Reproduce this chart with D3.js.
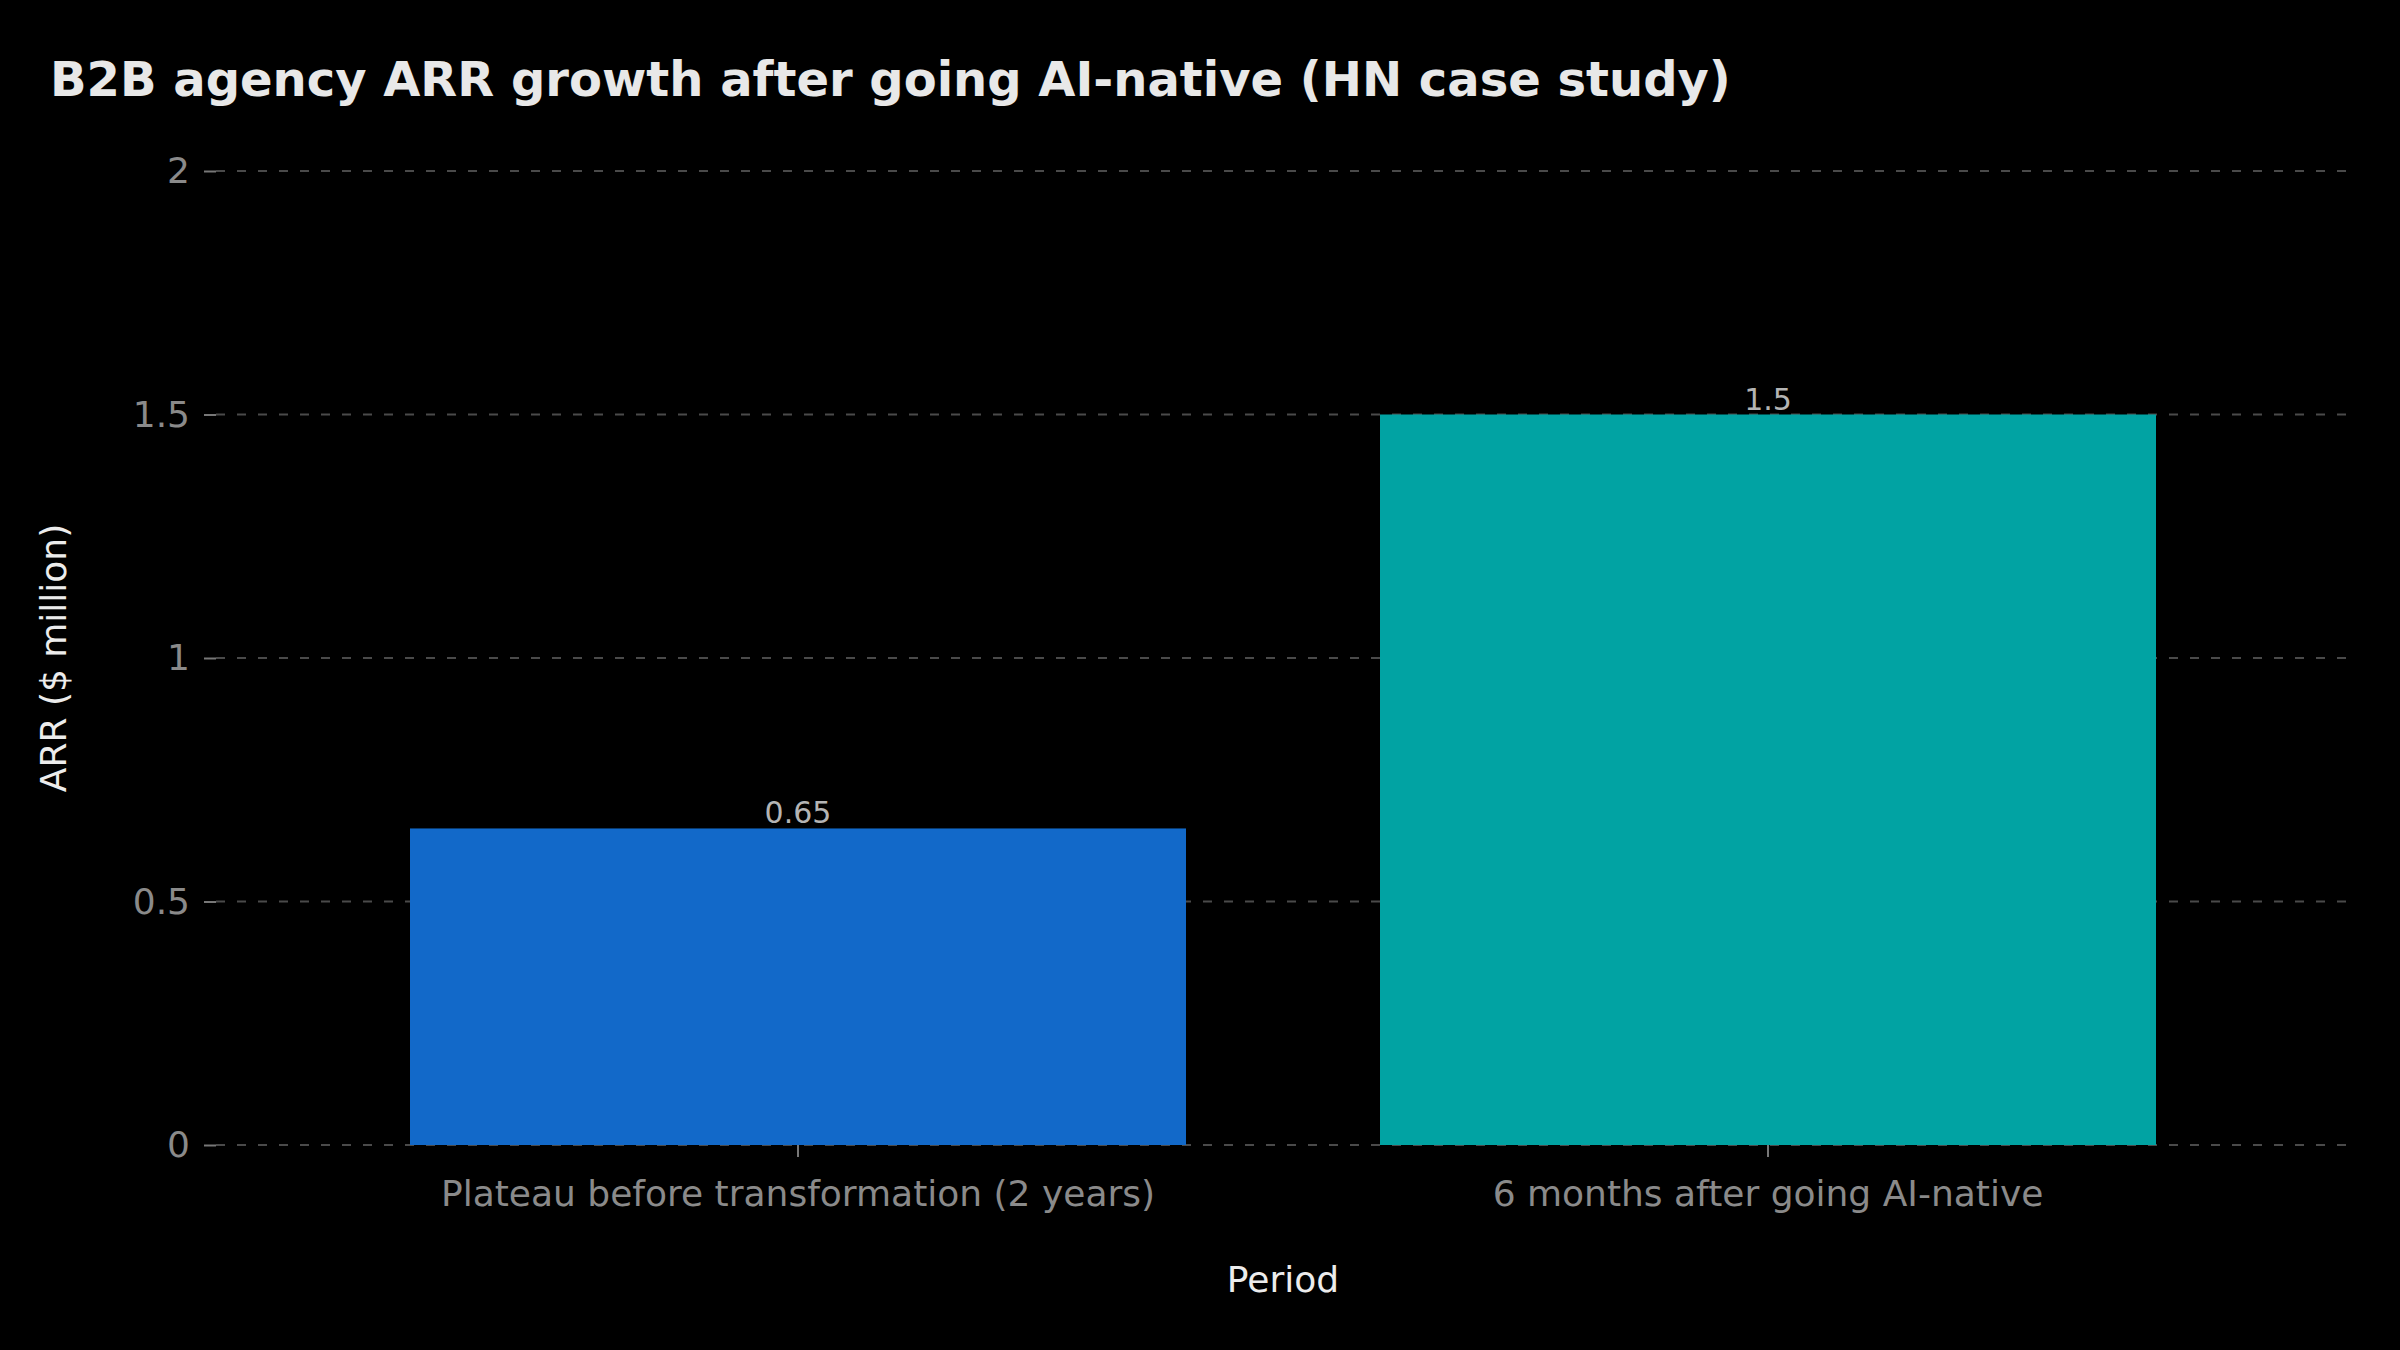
<!DOCTYPE html>
<html>
<head>
<meta charset="utf-8">
<script src="https://cdn.jsdelivr.net/npm/d3@7"></script>
<style>
  html, body { margin: 0; padding: 0; background: #000; }
  svg { display: block; font-family: "DejaVu Sans", sans-serif; }
</style>
</head>
<body>
<svg id="chart"></svg>
<script>
// Data
const categories = ["Plateau before transformation (2 years)", "6 months after going AI-native"];
const arrValues = [0.65, 1.5];
const barColors = ["#1269c9", "#01a3a3"];
const yTicks = [0, 0.5, 1, 1.5, 2];

const titleText = "B2B agency ARR growth after going AI-native (HN case study)";
const xTitle = "Period";
const yTitle = "ARR ($ million)";

const svgWidth = 2400,
    svgHeight = 1350;

const margins = {top: 171, right: 50, bottom: 205, left: 216};

const svg = d3.select("#chart")
    .attr("width", svgWidth)
    .attr("height", svgHeight)
    .attr("viewBox", `0 0 ${svgWidth} ${svgHeight}`);

svg.append("rect")
    .attr("width", svgWidth)
    .attr("height", svgHeight)
    .attr("fill", "#000");

const xScale = d3.scaleBand()
    .domain(categories)
    .range([margins.left, svgWidth - margins.right])
    .paddingInner(0.2)
    .paddingOuter(0.2);

const yScale = d3.scaleLinear()
    .domain([0, 2])
    .range([svgHeight - margins.bottom, margins.top]);

// Gridlines
svg.append("g")
    .selectAll("line")
    .data(yTicks)
    .enter().append("line")
    .attr("x1", margins.left)
    .attr("x2", svgWidth - margins.right)
    .attr("y1", d => yScale(d))
    .attr("y2", d => yScale(d))
    .attr("stroke", "#4a4a4a")
    .attr("stroke-width", 2)
    .attr("stroke-dasharray", "9,12");

// Bars
svg.append("g")
    .selectAll("rect")
    .data(arrValues)
    .enter().append("rect")
    .attr("x", (_, i) => xScale(categories[i]))
    .attr("y", d => yScale(d))
    .attr("width", xScale.bandwidth())
    .attr("height", d => yScale(0) - yScale(d))
    .attr("fill", (_, i) => barColors[i]);

// Value labels
svg.append("g")
    .selectAll("text")
    .data(arrValues)
    .enter().append("text")
    .attr("x", (_, i) => xScale(categories[i]) + xScale.bandwidth() / 2)
    .attr("y", d => yScale(d) - 5)
    .attr("text-anchor", "middle")
    .attr("fill", "#b4b4b4")
    .style("font-size", "30px")
    .text(d => d);

// Axes
const yAxis = d3.axisLeft(yScale)
    .tickValues(yTicks)
    .tickSize(12)
    .tickPadding(14)
    .tickFormat(d3.format("~g"));

const xAxis = d3.axisBottom(xScale)
    .tickSize(12)
    .tickPadding(23);

const gy = svg.append("g")
    .attr("transform", `translate(${margins.left},0)`)
    .call(yAxis);

const gx = svg.append("g")
    .attr("transform", `translate(0,${svgHeight - margins.bottom})`)
    .call(xAxis);

[gx, gy].forEach(g => {
    g.select(".domain").remove();
    g.selectAll(".tick line").attr("stroke", "#777").attr("stroke-width", 2);
    g.selectAll(".tick text")
        .attr("fill", "#8a8a8a")
        .style("font-size", "36px")
        .style("font-family", "DejaVu Sans, sans-serif");
});

// Axis labels
svg.append("text")
    .attr("x", (margins.left + svgWidth - margins.right) / 2)
    .attr("y", 1292)
    .attr("text-anchor", "middle")
    .attr("fill", "#ececec")
    .style("font-size", "36px")
    .text(xTitle);

svg.append("text")
    .attr("transform", `translate(66, ${(margins.top + svgHeight - margins.bottom) / 2}) rotate(-90)`)
    .attr("text-anchor", "middle")
    .attr("fill", "#ececec")
    .style("font-size", "36px")
    .text(yTitle);

// Title
svg.append("text")
    .attr("x", 50)
    .attr("y", 96)
    .attr("fill", "#e8e8e8")
    .style("font-size", "48px")
    .style("font-weight", "bold")
    .text(titleText);
</script>
</body>
</html>
